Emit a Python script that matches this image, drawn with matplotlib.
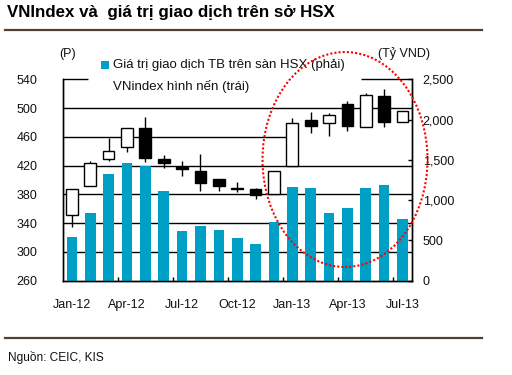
import matplotlib
matplotlib.use("Agg")
import matplotlib.pyplot as plt
from matplotlib.patches import Ellipse, Rectangle
from matplotlib.lines import Line2D
from matplotlib.ticker import FuncFormatter, FixedLocator
import numpy as np

plt.rcParams['font.family'] = ['Liberation Sans', 'DejaVu Sans']

months = ["Jan-12", "Feb-12", "Mar-12", "Apr-12", "May-12", "Jun-12", "Jul-12",
          "Aug-12", "Sep-12", "Oct-12", "Nov-12", "Dec-12", "Jan-13", "Feb-13",
          "Mar-13", "Apr-13", "May-13", "Jun-13", "Jul-13"]
opens  = [351, 391, 429, 446, 472, 429, 418, 412, 401, 389, 387, 380, 419, 483, 479, 506, 474, 517, 480]
closes = [387, 423, 440, 472, 430, 423, 415, 396, 392, 387, 379, 413, 479, 475, 491, 475, 518, 481, 496]
highs  = [387, 426, 459, 472, 487, 435, 426, 436, 401, 397, 389, 413, 486, 494, 493, 510, 521, 526, 496]
lows   = [335, 391, 427, 439, 425, 417, 405, 385, 385, 383, 374, 380, 419, 465, 461, 468, 473, 473, 480]
volume = [542, 840, 1324, 1461, 1424, 1113, 617, 683, 629, 530, 460, 728,
          1163, 1150, 840, 902, 1150, 1188, 766]
tick_labels = ["Jan-12", "Apr-12", "Jul-12", "Oct-12", "Jan-13", "Apr-13", "Jul-13"]
left_ticks = [260, 300, 340, 380, 420, 460, 500, 540]
right_ticks = [0, 500, 1000, 1500, 2000, 2500]

title = "VNIndex và  giá trị giao dịch trên sở HSX"
legend_bar = "Giá trị giao dịch TB trên sàn HSX (phải)"
legend_candle = "VNindex hình nến (trái)"
source = "Nguồn: CEIC, KIS"

W, H = 512, 375
fig = plt.figure(figsize=(W / 100, H / 100), dpi=100)
fig.patch.set_facecolor("white")

def fx(px):
    return px / W

def fy(py):
    return 1 - py / H

FS = 9
LFS = 9.5
TXT = "#111111"

ax_l, ax_r, ax_t, ax_b = 62.7, 411.7, 79.3, 280.7
ax = fig.add_axes([fx(ax_l), fy(ax_b), fx(ax_r - ax_l), (ax_b - ax_t) / H])
ax2 = ax.twinx()

x = np.arange(len(months))
ax.set_xlim(-0.5, len(months) - 0.5)
ax.set_ylim(260, 540)
ax2.set_ylim(0, 2500)

# gridlines
grid_kw = dict(color="black", lw=1.0, zorder=0)
for v in left_ticks[1:-1]:
    if v == 460:
        ax.hlines(v, -0.5, 12, **grid_kw)
    else:
        ax.axhline(v, **grid_kw)
ax.hlines(540, -0.5, 0.88, color="black", lw=1.0, zorder=0, clip_on=False)
ax.hlines(540, 15.74, 18.5, color="black", lw=1.0, zorder=0, clip_on=False)

# bars
ax2.bar(x, volume, width=0.58, color="#00A0C6", zorder=2)

# candles
for i in range(len(months)):
    o, c, h, l = opens[i], closes[i], highs[i], lows[i]
    ax.vlines(i, l, h, color="black", lw=1.0, zorder=2)
    up = c >= o
    ax.bar(i, max(abs(c - o), 0.8), bottom=min(o, c), width=0.64,
           color="white" if up else "black", edgecolor="black", lw=1.0, zorder=3)

# spines and ticks
for a in (ax, ax2):
    a.spines["top"].set_visible(False)
    a.spines["left"].set_linewidth(1.0)
    a.spines["right"].set_linewidth(1.0)
    a.spines["bottom"].set_linewidth(1.0)

ax.set_yticks(left_ticks)
ax.tick_params(axis="y", length=0, pad=25.5 * 0.72, labelsize=FS, labelcolor=TXT)
ax2.set_yticks(right_ticks)
ax2.yaxis.set_major_formatter(FuncFormatter(lambda v, p: f"{int(v):,}"))
ax2.tick_params(axis="y", direction="in", length=3, width=1.0, pad=8, labelsize=FS,
                labelcolor=TXT)

label_pos = [months.index(m) for m in tick_labels]
ax.set_xticks(label_pos)
ax.set_xticklabels(tick_labels)
ax.xaxis.set_minor_locator(FixedLocator([2.5, 5.5, 8.5, 11.5, 14.5, 17.5]))
ax.tick_params(axis="x", which="major", length=0, pad=13, labelsize=FS, labelcolor=TXT)
ax.tick_params(axis="x", which="minor", direction="in", length=3, width=1.0)
ax2.tick_params(axis="x", which="both", length=0)

# legend area
fig.patches.append(Rectangle((fx(101), fy(68.5)), fx(7.5), 7.5 / H, transform=fig.transFigure,
                             facecolor="#00A0C6", edgecolor="none"))
fig.text(fx(113), fy(65), legend_bar, fontsize=LFS, va="center", ha="left", color=TXT)
fig.text(fx(113), fy(86.5), legend_candle, fontsize=LFS, va="center", ha="left", color=TXT)

# axis unit labels
fig.text(fx(68), fy(54), "(P)", fontsize=FS, va="center", ha="center", color=TXT)
fig.text(fx(404.5), fy(54), "(Tỷ VND)", fontsize=FS, va="center", ha="center", color=TXT)

# title and rules
fig.text(fx(7), fy(13), title, fontsize=12.2, fontweight="bold", va="center", ha="left",
         color="black")
fig.add_artist(Line2D([fx(5), fx(482)], [fy(29.5), fy(29.5)], color="#4F4033", lw=1.6,
                      transform=fig.transFigure))
fig.add_artist(Line2D([fx(5), fx(482)], [fy(337.7), fy(337.7)], color="#4F4033", lw=1.6,
                      transform=fig.transFigure))
fig.text(fx(8), fy(357), source, fontsize=8.6, va="center", ha="left", color=TXT)

# red dotted ellipse
fig.patches.append(Ellipse((fx(345), fy(159.5)), fx(165), 215 / H, transform=fig.transFigure,
                           fill=False, edgecolor="#FF0000", lw=1.5, linestyle=(0, (1, 1)),
                           zorder=10))

fig.savefig("out.png", dpi=100)
